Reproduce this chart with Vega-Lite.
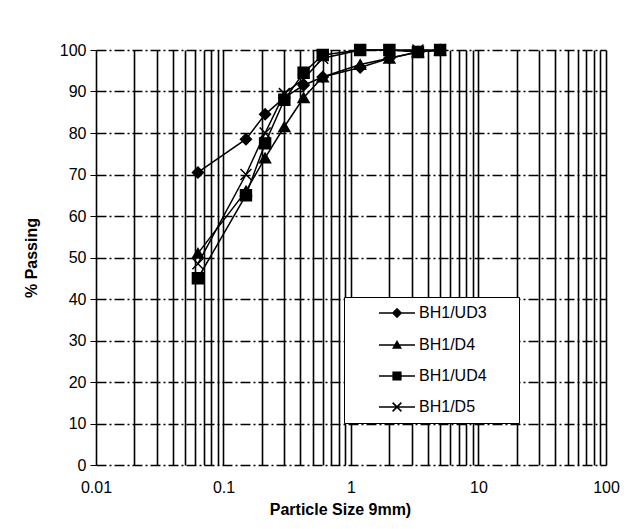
{
  "$schema": "https://vega.github.io/schema/vega-lite/v6.json",
  "width": 510,
  "height": 415,
  "autosize": "none",
  "padding": {"left": 96, "top": 50, "right": 23, "bottom": 64},
  "background": "white",
  "config": {"font": "Liberation Sans", "view": {"stroke": null}},
  "data": {
    "values": [
      {"series": "BH1/UD3", "size": 0.063, "passing": 70.5},
      {"series": "BH1/UD3", "size": 0.15, "passing": 78.5},
      {"series": "BH1/UD3", "size": 0.212, "passing": 84.5},
      {"series": "BH1/UD3", "size": 0.3, "passing": 88.5},
      {"series": "BH1/UD3", "size": 0.425, "passing": 91.5},
      {"series": "BH1/UD3", "size": 0.6, "passing": 93.5},
      {"series": "BH1/UD3", "size": 1.18, "passing": 95.8},
      {"series": "BH1/UD3", "size": 2, "passing": 98},
      {"series": "BH1/UD3", "size": 3.35, "passing": 99.5},
      {"series": "BH1/UD3", "size": 5, "passing": 100},
      {"series": "BH1/D4", "size": 0.063, "passing": 51},
      {"series": "BH1/D4", "size": 0.15, "passing": 66},
      {"series": "BH1/D4", "size": 0.212, "passing": 74},
      {"series": "BH1/D4", "size": 0.3, "passing": 81.5},
      {"series": "BH1/D4", "size": 0.425, "passing": 88.5},
      {"series": "BH1/D4", "size": 0.6, "passing": 93.5},
      {"series": "BH1/D4", "size": 1.18, "passing": 96.5},
      {"series": "BH1/D4", "size": 2, "passing": 98},
      {"series": "BH1/D4", "size": 3.35, "passing": 99.5},
      {"series": "BH1/D4", "size": 5, "passing": 100},
      {"series": "BH1/UD4", "size": 0.063, "passing": 45},
      {"series": "BH1/UD4", "size": 0.15, "passing": 65},
      {"series": "BH1/UD4", "size": 0.212, "passing": 77.5},
      {"series": "BH1/UD4", "size": 0.3, "passing": 88},
      {"series": "BH1/UD4", "size": 0.425, "passing": 94.5},
      {"series": "BH1/UD4", "size": 0.6, "passing": 98.8},
      {"series": "BH1/UD4", "size": 1.18, "passing": 100},
      {"series": "BH1/UD4", "size": 2, "passing": 100},
      {"series": "BH1/UD4", "size": 3.35, "passing": 99.5},
      {"series": "BH1/UD4", "size": 5, "passing": 100},
      {"series": "BH1/D5", "size": 0.063, "passing": 48.5},
      {"series": "BH1/D5", "size": 0.15, "passing": 70},
      {"series": "BH1/D5", "size": 0.212, "passing": 80},
      {"series": "BH1/D5", "size": 0.3, "passing": 89.5},
      {"series": "BH1/D5", "size": 0.425, "passing": 93},
      {"series": "BH1/D5", "size": 0.6, "passing": 98},
      {"series": "BH1/D5", "size": 1.18, "passing": 100},
      {"series": "BH1/D5", "size": 2, "passing": 100},
      {"series": "BH1/D5", "size": 3.35, "passing": 100},
      {"series": "BH1/D5", "size": 5, "passing": 100}
    ]
  },
  "encoding": {
    "x": {
      "field": "size",
      "type": "quantitative",
      "scale": {"type": "log", "domain": [0.01, 100], "nice": false},
      "axis": {
        "title": "Particle Size 9mm)",
        "titleFontSize": 16,
        "titleFontWeight": "bold",
        "titleColor": "black",
        "titlePadding": 6,
        "titleX": 244,
        "values": [0.01, 0.02, 0.03, 0.04, 0.05, 0.06, 0.07, 0.08, 0.09, 0.1, 0.2, 0.3, 0.4, 0.5, 0.6, 0.7, 0.8, 0.9, 1, 2, 3, 4, 5, 6, 7, 8, 9, 10, 20, 30, 40, 50, 60, 70, 80, 90, 100],
        "labelExpr": "datum.value == 0.01 ? '0.01' : datum.value == 0.1 ? '0.1' : datum.value == 1 ? '1' : datum.value == 10 ? '10' : datum.value == 100 ? '100' : ''",
        "labelOverlap": false,
        "labelBound": false,
        "labelFlush": false,
        "labelFontSize": 16,
        "labelColor": "black",
        "labelPadding": 14,
        "ticks": false,
        "domain": false,
        "grid": true,
        "gridColor": "black",
        "gridWidth": 1.6,
        "gridOpacity": 1
      }
    },
    "y": {
      "field": "passing",
      "type": "quantitative",
      "scale": {"domain": [0, 100], "nice": false},
      "axis": {
        "title": "% Passing",
        "titleFontSize": 16,
        "titleFontWeight": "bold",
        "titleColor": "black",
        "titlePadding": 20,
        "values": [0, 10, 20, 30, 40, 50, 60, 70, 80, 90, 100],
        "labelFontSize": 16,
        "labelColor": "black",
        "labelPadding": 4,
        "tickSize": 6,
        "tickColor": "black",
        "domain": false,
        "grid": true,
        "gridColor": "black",
        "gridWidth": 1.3,
        "gridOpacity": 1,
        "gridDash": [10, 3, 2, 3]
      }
    }
  },
  "layer": [
    {
      "mark": {"type": "line", "color": "black", "strokeWidth": 1.5},
      "encoding": {"detail": {"field": "series"}}
    },
    {
      "mark": {"type": "point", "filled": true, "color": "black", "stroke": "black", "strokeWidth": 1.5, "opacity": 1, "size": 120},
      "encoding": {
        "shape": {
          "field": "series",
          "type": "nominal",
          "scale": {
            "domain": ["BH1/UD3", "BH1/D4", "BH1/UD4", "BH1/D5"],
            "range": ["diamond", "triangle-up", "square", "M-1,-1L1,1M-1,1L1,-1"]
          },
          "legend": null
        }
      }
    },
    {
      "transform": [{"filter": "false"}],
      "mark": {"type": "point", "filled": true, "color": "black", "opacity": 1},
      "encoding": {
        "shape": {
          "field": "series",
          "type": "nominal",
          "scale": {
            "domain": ["BH1/UD3", "BH1/D4", "BH1/UD4", "BH1/D5"],
            "range": [
              "M-4.5,-0.2H4.5V0.2H-4.5ZM0,-1.3L1.3,0L0,1.3L-1.3,0Z",
              "M-4.5,-0.2H4.5V0.2H-4.5ZM0,-1.25L1.25,0.95L-1.25,0.95Z",
              "M-4.5,-0.2H4.5V0.2H-4.5ZM-1.15,-1.15H1.15V1.15H-1.15Z",
              "M-4.5,-0.2H4.5V0.2H-4.5ZM-0.96,-1.24L1.24,0.96L0.96,1.24L-1.24,-0.96ZM-1.24,0.96L0.96,-1.24L1.24,-0.96L-0.96,1.24Z"
            ]
          },
          "legend": {
            "title": null,
            "orient": "none",
            "legendX": 248,
            "legendY": 247,
            "strokeColor": "black",
            "fillColor": "white",
            "padding": 8,
            "symbolSize": 64,
            "symbolFillColor": "black",
            "symbolOpacity": 1,
            "symbolOffset": 37,
            "labelOffset": 14,
            "labelFontSize": 16,
            "labelColor": "black",
            "rowPadding": 15,
            "labelExpr": "datum.label + '\u2800\u2800'"
          }
        }
      }
    }
  ],
  "resolve": {"scale": {"shape": "independent"}}
}
